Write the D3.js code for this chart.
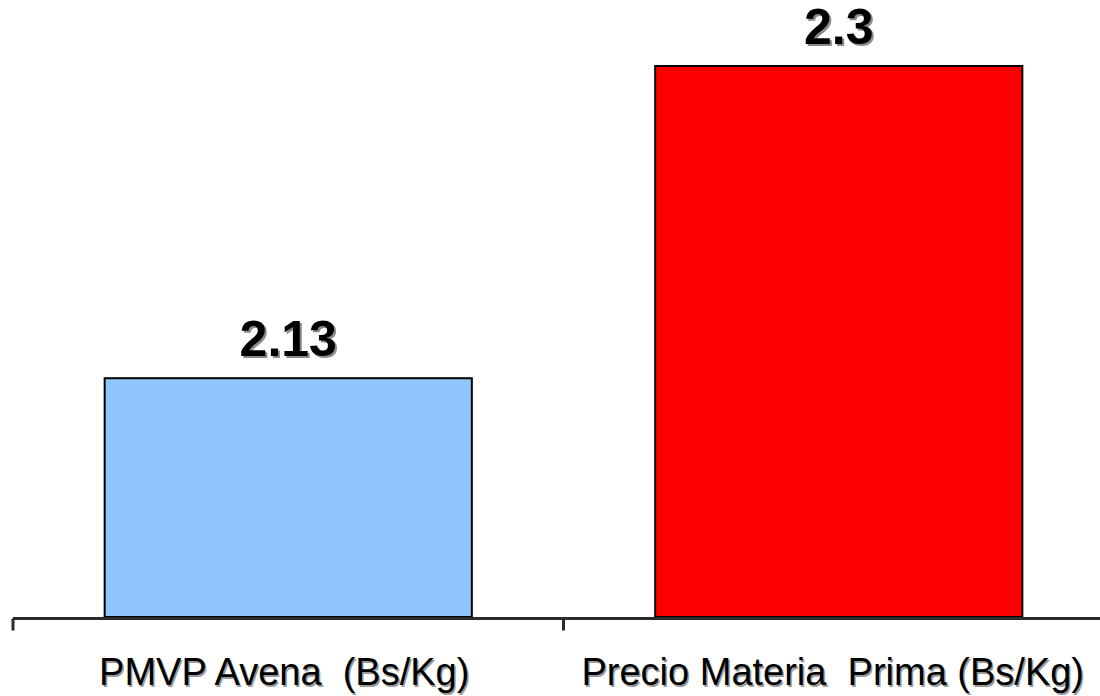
<!DOCTYPE html>
<html>
<head>
<meta charset="utf-8">
<script src="https://cdn.jsdelivr.net/npm/d3@7"></script>
<style>
  html, body { margin: 0; padding: 0; background: #fff; }
  svg { display: block; }
  text { white-space: pre; }
</style>
</head>
<body>
<svg id="chart" width="1100" height="696"></svg>
<script>
const categories = ["PMVP Avena  (Bs/Kg)", "Precio Materia  Prima (Bs/Kg)"];
const values = [2.13, 2.3];
const valueLabels = ["2.13", "2.3"];
const colors = ["#8EC6FD", "#FF0000"];

const svg = d3.select("#chart");
const baseY = 617;

const x = d3.scaleBand().domain(categories).range([13, 1114]).padding(0);
const y = d3.scaleLinear().domain([2.0, 2.3]).range([baseY, 66]);
const barW = x.bandwidth() * 0.667;

const data = categories.map((c, i) => ({ c, v: values[i], lab: valueLabels[i], col: colors[i] }));

// bars
svg.selectAll("rect.bar").data(data).join("rect")
  .attr("class", "bar")
  .attr("x", d => x(d.c) + x.bandwidth() / 2 - barW / 2)
  .attr("y", d => y(d.v))
  .attr("width", barW)
  .attr("height", d => baseY - y(d.v))
  .attr("fill", d => d.col)
  .attr("stroke", "#000")
  .attr("stroke-width", 2);

// axis
const axisG = svg.append("g").attr("transform", `translate(0,${baseY + 1.5})`);
axisG.append("line")
  .attr("x1", 13).attr("x2", 1100)
  .attr("y1", 0).attr("y2", 0)
  .attr("stroke", "#2b2b2b").attr("stroke-width", 3);
const tickPos = categories.map(c => x(c)).concat([x.range()[1]]);
axisG.selectAll("line.tick").data(tickPos).join("line")
  .attr("class", "tick")
  .attr("x1", d => d).attr("x2", d => d)
  .attr("y1", 0).attr("y2", 12)
  .attr("stroke", "#2b2b2b").attr("stroke-width", 3);

// category labels
const catG = svg.append("g");
[{dx: 1.5, dy: 1.5, fill: "#9a9a9a"}, {dx: 0, dy: 0, fill: "#000"}].forEach(s => {
  catG.selectAll(null).data(data).join("text")
    .attr("x", (d, i) => x(d.c) + x.bandwidth() / 2 + (i === 0 ? -4 : -6) + s.dx)
    .attr("y", 685 + s.dy)
    .attr("text-anchor", "middle")
    .attr("font-family", "'Liberation Sans', Arial, sans-serif")
    .attr("font-size", 38)
    .attr("fill", s.fill)
    .text(d => d.c);
});

// value labels
const valG = svg.append("g");
[{dx: 2, dy: 2, fill: "#8a8a8a"}, {dx: 0, dy: 0, fill: "#000"}].forEach(s => {
  valG.selectAll(null).data(data).join("text")
    .attr("x", d => x(d.c) + x.bandwidth() / 2 + s.dx)
    .attr("y", d => y(d.v) - 22 + s.dy)
    .attr("text-anchor", "middle")
    .attr("font-family", "'Liberation Sans', Arial, sans-serif")
    .attr("font-weight", "bold")
    .attr("font-size", 50)
    .attr("fill", s.fill)
    .text(d => d.lab);
});
</script>
</body>
</html>
